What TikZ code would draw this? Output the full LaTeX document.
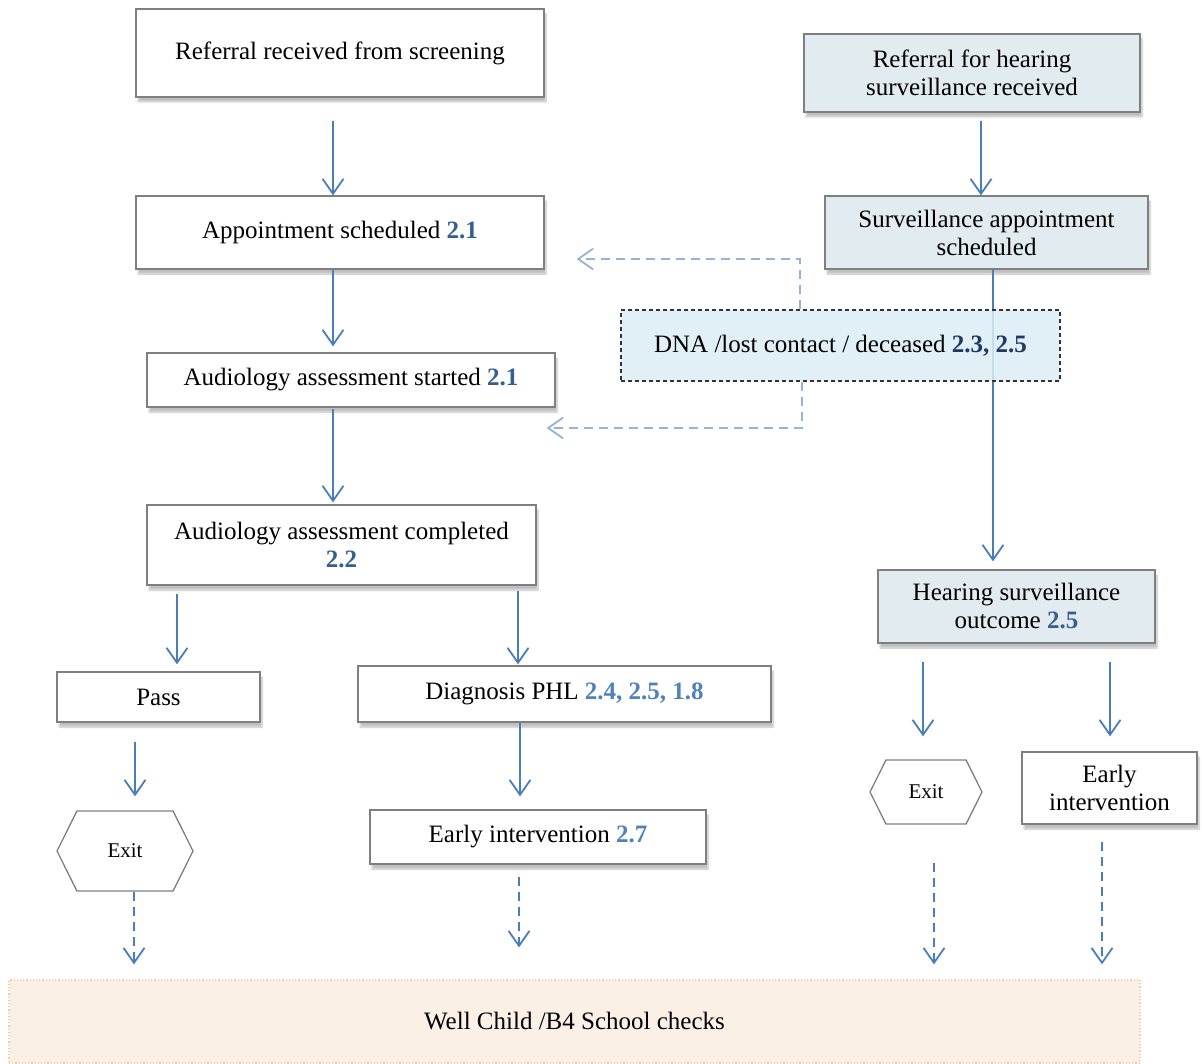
\documentclass[tikz,border=0pt]{standalone}
\usepackage{fontspec}
\setmainfont{Liberation Serif}
\usepackage{xcolor}
\usepackage{tikz}
\usetikzlibrary{shapes.symbols,arrows.meta,positioning,shadows.blur}

\definecolor{boxgray}{HTML}{7F7F7F}
\definecolor{linkblue}{HTML}{4A7EBB}
\definecolor{faintblue}{HTML}{95B3D7}
\definecolor{survfill}{HTML}{E2EBF0}
\definecolor{dnafill}{HTML}{DAEDF4}
\definecolor{wellfill}{HTML}{FBF0E6}
\definecolor{welldraw}{HTML}{F8C9A0}
\definecolor{refnum}{HTML}{365F91}
\definecolor{refnumlight}{HTML}{4F81BD}
\definecolor{refnumdark}{HTML}{1F3864}
\newcommand{\refno}[2][refnum]{\textbf{\textcolor{#1}{#2}}}

\begin{document}
\begin{tikzpicture}[
    x=1pt, y=-1pt,
    font=\fontsize{25}{28}\selectfont,
    block/.style={rectangle, draw=boxgray, line width=1.3pt, fill=white, align=center, inner sep=2pt,
        blur shadow={shadow xshift=2pt, shadow yshift=-5pt, shadow blur steps=6, shadow opacity=25}},
    survblock/.style={block, fill=survfill},
    exitbox/.style={signal, signal to=west and east, signal pointer angle=127, draw=boxgray, line width=1.3pt,
        fill=white, inner sep=0pt, font=\fontsize{21}{24}\selectfont},
    line/.style={draw=linkblue, line width=1.8pt, -{Straight Barb[length=15pt, width=21pt, line width=1.8pt]}},
    dline/.style={line, dash pattern=on 9pt off 6pt},
    faintline/.style={line, draw=faintblue, dash pattern=on 9pt off 6pt}
]
\useasboundingbox (0,0) rectangle (1202,1064);

% screening pathway
\node [block, minimum width=408pt, minimum height=88pt] (screenref) at (340,53) {Referral received from screening};
\node [block, minimum width=408pt, minimum height=73pt] (appt) at (340,232.5) {Appointment scheduled \refno{2.1}};
\node [block, minimum width=408pt, minimum height=54pt] (started) at (351,380) {Audiology assessment started \refno{2.1}};
\node [block, minimum width=389pt, minimum height=80pt] (completed) at (341.5,545) {Audiology assessment completed\\\refno{2.2}};
\node [block, minimum width=203pt, minimum height=50pt] (pass) at (158.5,697) {Pass};
\node [block, minimum width=413pt, minimum height=56pt] (diag) at (564.5,694) {Diagnosis PHL \refno[refnumlight]{2.4, 2.5, 1.8}};
\node [exitbox, minimum width=136pt, minimum height=80pt] (exitL) at (125,851) {Exit};
\node [block, minimum width=336pt, minimum height=54pt] (earlyL) at (538,837) {Early intervention \refno[refnumlight]{2.7}};

% surveillance pathway
\node [survblock, minimum width=336pt, minimum height=78pt] (survref) at (972,73) {Referral for hearing\\surveillance received};
\node [survblock, minimum width=323pt, minimum height=73pt] (survappt) at (986.5,232.5) {Surveillance appointment\\scheduled};
\node [survblock, minimum width=277pt, minimum height=73pt] (outcome) at (1016.5,606.5) {Hearing surveillance\\outcome \refno{2.5}};
\node [exitbox, minimum width=112pt, minimum height=64pt] (exitR) at (926,792) {Exit};
\node [block, minimum width=175pt, minimum height=72pt] (earlyR) at (1109.5,788) {Early\\intervention};

\node [rectangle, draw=welldraw, line width=1.2pt, dotted, fill=wellfill, minimum width=1131pt, minimum height=83pt] (well) at (574.5,1021.5) {Well Child /B4 School checks};

\path [line] ([xshift=-7pt,yshift=-23pt]screenref.south) -- ([xshift=-7pt]appt.north);
\path [line] ([xshift=-7pt]appt.south) -- ([xshift=-18pt,yshift=6pt]started.north);
\path [line] ([xshift=-18pt,yshift=-1pt]started.south) -- ([xshift=-8.5pt,yshift=2pt]completed.north);
\path [line] ([xshift=-164.5pt,yshift=-8pt]completed.south) -- ([xshift=18.5pt,yshift=7pt]pass.north);
\path [line] ([xshift=176.5pt,yshift=-5pt]completed.south) -- ([xshift=-46.5pt,yshift=1pt]diag.north);
\path [line] ([xshift=-23.5pt,yshift=-19pt]pass.south) -- ([xshift=10pt,yshift=14pt]exitL.north);
\path [line] ([xshift=-44.5pt]diag.south) -- ([xshift=-18pt,yshift=13pt]earlyL.north);
\path [line] ([xshift=9pt,yshift=-8pt]survref.south) -- ([xshift=-5.5pt]survappt.north);
\path [line] ([xshift=6.5pt]survappt.south) -- ([xshift=-23.5pt,yshift=8pt]outcome.north);
\path [line] ([xshift=-93.5pt,yshift=-18pt]outcome.south) -- ([xshift=-3pt,yshift=23pt]exitR.north);
\path [line] ([xshift=93.5pt,yshift=-18pt]outcome.south) -- ([xshift=0.5pt,yshift=15pt]earlyR.north);

\path [dline] ([xshift=9pt]exitL.south) -- ([xshift=-440.5pt,yshift=15pt]well.north);
\path [dline] ([xshift=-19pt,yshift=-12pt]earlyL.south) -- ([xshift=-55.5pt,yshift=32pt]well.north);
\path [dline] ([xshift=8pt,yshift=-38pt]exitR.south) -- ([xshift=359.5pt,yshift=15pt]well.north);
\path [dline] ([xshift=-7.5pt,yshift=-17pt]earlyR.south) -- ([xshift=527.5pt,yshift=15pt]well.north);

% lost to follow-up
\node [rectangle, draw=black!80, line width=1.1pt, dash pattern=on 4pt off 3pt, fill=dnafill, fill opacity=0.85, text opacity=1,
    minimum width=439pt, minimum height=71pt] (dna) at (840.5,345.5) {DNA /lost contact / deceased \refno[refnumdark]{2.3, 2.5}};

\path [faintline] ([xshift=-40.5pt]dna.north) |- ([xshift=32pt,yshift=-26.5pt]appt.east);
\path [faintline] ([xshift=-38.5pt]dna.south) |- ([xshift=-9pt,yshift=-48pt]started.east);

\end{tikzpicture}
\end{document}
